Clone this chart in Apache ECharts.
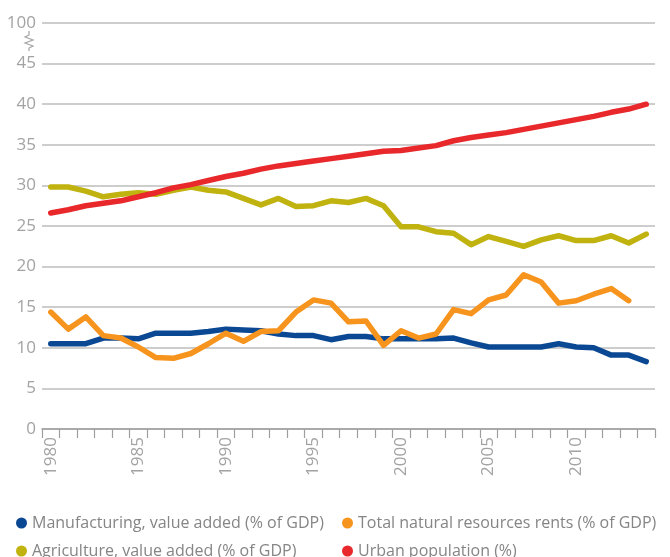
<!DOCTYPE html>
<html>
<head>
<meta charset="utf-8">
<script src="https://cdn.jsdelivr.net/npm/echarts@6/dist/echarts.min.js"></script>
<style>html,body{margin:0;padding:0;background:#fff}#c{width:670px;height:557px}</style>
</head>
<body>
<div id="c"></div>
<script>
var years = [];
for (var y = 1980; y <= 2014; y++) years.push(String(y));

var manufacturing = [10.5,10.5,10.5,11.2,11.2,11.1,11.8,11.8,11.8,12.0,12.3,12.2,12.1,11.7,11.5,11.5,11.0,11.4,11.4,11.1,11.1,11.1,11.1,11.2,10.6,10.1,10.1,10.1,10.1,10.5,10.1,10.0,9.1,9.1,8.3];
var naturalRents = [14.4,12.3,13.8,11.5,11.2,10.1,8.8,8.7,9.3,10.5,11.8,10.8,12.0,12.1,14.4,15.9,15.5,13.2,13.3,10.3,12.1,11.2,11.7,14.7,14.2,15.9,16.5,19.0,18.1,15.5,15.8,16.6,17.3,15.8,null];
var agriculture = [29.8,29.8,29.3,28.6,28.9,29.1,28.9,29.4,29.8,29.4,29.2,28.4,27.6,28.4,27.4,27.5,28.1,27.9,28.4,27.5,24.9,24.9,24.3,24.1,22.7,23.7,23.1,22.5,23.3,23.8,23.2,23.2,23.8,22.9,24.0];
var urban = [26.6,27.0,27.5,27.8,28.1,28.6,29.1,29.7,30.1,30.6,31.1,31.5,32.0,32.4,32.7,33.0,33.3,33.6,33.9,34.2,34.3,34.6,34.9,35.5,35.9,36.2,36.5,36.9,37.3,37.7,38.1,38.5,39.0,39.4,40.0];

var names = {
  m: 'Manufacturing, value added (% of GDP)',
  n: 'Total natural resources rents (% of GDP)',
  a: 'Agriculture, value added (% of GDP)',
  u: 'Urban population (%)'
};
var colors = {m:'#0b4893', n:'#f7941e', a:'#c0b20f', u:'#e8282b'};
var FONT = 'Open Sans';

var chart = echarts.init(document.getElementById('c'), null, {renderer:'canvas'});
function line(key, data){
  return {
    name: names[key], type:'line', data:data, symbol:'none', smooth:false,
    connectNulls:false,
    itemStyle:{color:colors[key]},
    lineStyle:{color:colors[key], width:5.5, cap:'round', join:'round'}
  };
}
var legendText = {fontFamily:FONT, fontSize:16, color:'#858585'};
function leg(key, left, top){
  return {orient:'horizontal', left:left, top:top, itemWidth:11, itemHeight:11, itemGap:0,
    icon:'circle', textStyle:legendText, data:[names[key]]};
}
chart.setOption({
  animation:false,
  backgroundColor:'#fff',
  grid:{left:42, right:15, top:23, bottom:128, containLabel:false},
  xAxis:{
    type:'category', data:years, boundaryGap:true,
    axisLine:{lineStyle:{color:'#9e9e9e', width:1.5}},
    axisTick:{show:true, interval:0, length:9, alignWithLabel:false, lineStyle:{color:'#9e9e9e', width:1.2}},
    axisLabel:{interval:4, rotate:90, margin:8, fontFamily:FONT, fontSize:17, color:'#a3a3a3'},
    splitLine:{show:false}
  },
  yAxis:{
    type:'value', min:0, max:50, interval:5,
    axisLine:{show:false}, axisTick:{show:false},
    axisLabel:{margin:6, fontFamily:FONT, fontSize:17, color:'#a3a3a3',
      formatter:function(v){ return v === 50 ? '100' : String(v); }},
    splitLine:{lineStyle:{color:'#bdbdbd', width:1.5}}
  },
  legend:[
    leg('m', 11, 510),
    leg('n', 337, 510),
    leg('a', 11, 538),
    leg('u', 337, 538)
  ],
  graphic:[{
    type:'polyline', silent:true,
    shape:{points:[[29,31],[29,35],[25,37],[33,40],[25,43],[33,46],[29,48],[29,51]]},
    style:{stroke:'#a3a3a3', lineWidth:1.2, fill:null}
  }],
  series:[
    line('m', manufacturing),
    line('n', naturalRents),
    line('a', agriculture),
    line('u', urban)
  ]
});
</script>
</body>
</html>
